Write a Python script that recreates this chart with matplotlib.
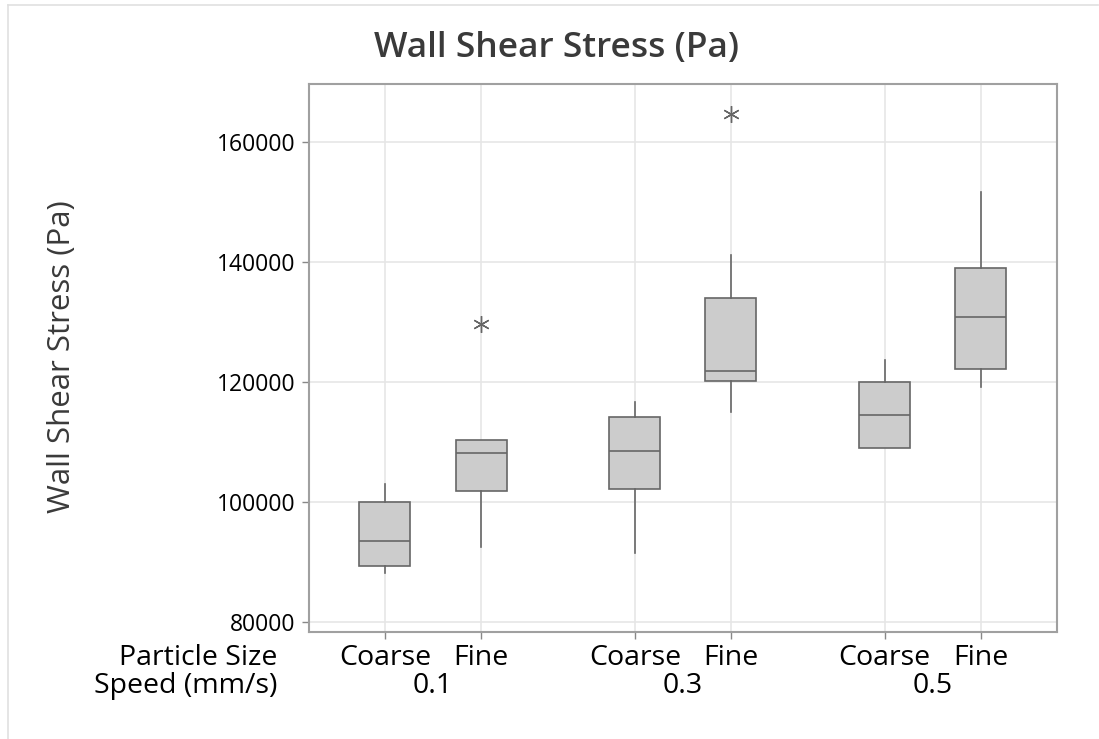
import matplotlib
matplotlib.use("Agg")
import matplotlib.pyplot as plt
import matplotlib.transforms as mtransforms
from matplotlib.lines import Line2D

# ---- data ----
speeds = ["0.1", "0.3", "0.5"]
sizes = ["Coarse", "Fine"]
labels = ["Coarse", "Fine", "Coarse", "Fine", "Coarse", "Fine"]
whislo = [88200, 92500, 91500, 115000, 109000, 119200]
q1 = [89400, 101900, 102200, 120200, 109000, 122300]
med = [93600, 108200, 108550, 121900, 114550, 130900]
q3 = [100100, 110400, 114300, 134100, 120000, 139000]
whishi = [103000, 110400, 116800, 141300, 123700, 151800]
outliers = [[], [129700], [], [164800], [], []]

yticks = [80000, 100000, 120000, 140000, 160000]

plt.rcParams['font.family'] = ['Open Sans', 'DejaVu Sans']

fig = plt.figure(figsize=(10.99, 7.39), dpi=100)
ax = fig.add_axes([0.2812, 0.1452, 0.9615 - 0.2812, 0.8863 - 0.1452])

positions = [1, 2, 3.6, 4.6, 6.2, 7.2]
stats = []
for i in range(len(labels)):
    stats.append(dict(whislo=whislo[i], q1=q1[i], med=med[i], q3=q3[i],
                      whishi=whishi[i], fliers=outliers[i], label=labels[i]))

ax.bxp(stats, positions=positions, widths=0.53, patch_artist=True,
       showcaps=False,
       boxprops=dict(facecolor='#cccccc', edgecolor='#666666', linewidth=1.2),
       medianprops=dict(color='#666666', linewidth=1.2),
       whiskerprops=dict(color='#666666', linewidth=1.2),
       flierprops=dict(marker=(6, 2, 0), markersize=12, markeredgecolor='#666666',
                       markerfacecolor='#666666', markeredgewidth=1.0, linestyle='none'),
       zorder=3)

ax.set_xlim(0.21, 7.99)
ax.set_ylim(78430, 169720)
ax.set_yticks(yticks)
ax.set_yticklabels([str(v) for v in yticks], fontsize=16.5, color='#000000')
ax.set_xticks(positions)
ax.set_xticklabels([])
ax.tick_params(axis='both', direction='out', length=5, width=1, color='#888888')
ax.tick_params(axis='y', pad=5)

ax.grid(True, color='#e6e6e6', linewidth=1.2, zorder=0)
ax.set_axisbelow(True)
for s in ax.spines.values():
    s.set_color('#a0a0a0')
    s.set_linewidth(1.5)

trans = mtransforms.blended_transform_factory(ax.transData, fig.transFigure)
row1 = 1 - 658 / 739
row2 = 1 - 686 / 739
lab_fs = 20.5
for p, lab in zip(positions, labels):
    ax.text(p, row1, lab, transform=trans, ha='center', va='center',
            fontsize=lab_fs, color='#000000')
for g, sp in enumerate(speeds):
    xc = (positions[2 * g] + positions[2 * g + 1]) / 2
    ax.text(xc, row2, sp, transform=trans, ha='center', va='center',
            fontsize=lab_fs, color='#000000')

fig.text(277 / 1099, row1, "Particle Size", ha='right', va='center',
         fontsize=lab_fs, color='#000000')
fig.text(277 / 1099, row2, "Speed (mm/s)", ha='right', va='center',
         fontsize=lab_fs, color='#000000')

fig.text(557 / 1099, 1 - 48 / 739, "Wall Shear Stress (Pa)", ha='center', va='center',
         fontsize=25.5, color='#3a3a3a', fontweight='semibold')
fig.text(62 / 1099, 1 - 357 / 739, "Wall Shear Stress (Pa)", ha='center', va='center',
         rotation=90, fontsize=22.5, color='#3a3a3a')

# light outer frame
fig.add_artist(Line2D([8 / 1099, 1098 / 1099], [1 - 5 / 739, 1 - 5 / 739],
                      transform=fig.transFigure, color='#e0e0e0', linewidth=1.2))
fig.add_artist(Line2D([8 / 1099, 8 / 1099], [1 - 5 / 739, 0],
                      transform=fig.transFigure, color='#e0e0e0', linewidth=1.2))

fig.savefig("out.png", dpi=100)
